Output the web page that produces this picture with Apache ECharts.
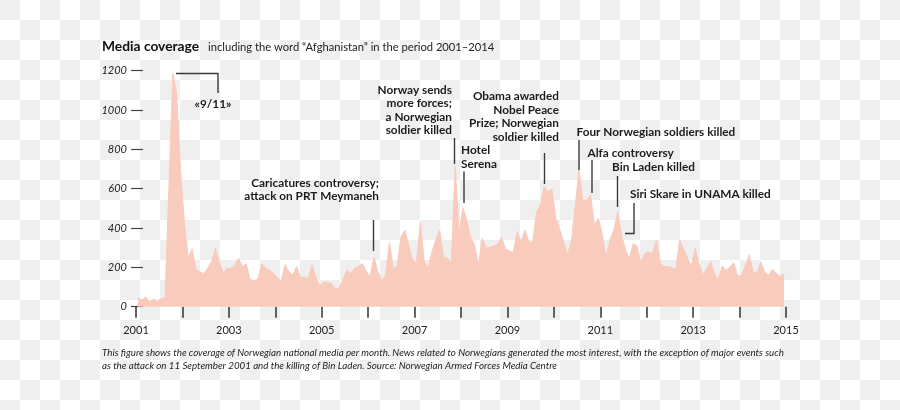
<!DOCTYPE html>
<html>
<head>
<meta charset="utf-8">
<script src="https://cdn.jsdelivr.net/npm/echarts@6/dist/echarts.min.js"></script>
<style>
html,body{margin:0;padding:0;}
body{width:900px;height:410px;
background:conic-gradient(#fff 25%, #efefef 0 50%, #fff 0 75%, #efefef 0) 0 0/40px 40px;}
#chart{width:900px;height:410px;}
</style>
</head>
<body>
<div id="chart"></div>
<script>
// Monthly article counts, Jan 2001 - Dec 2014
const startYear = 2001;
const monthlyCounts = [
  45, 34, 50, 25, 38, 30, 40, 45, 600, 1187, 1085, 700,
  430, 248, 293, 190, 178, 168, 195, 229, 297, 230, 173, 195,
  195, 210, 246, 203, 218, 140, 132, 140, 220, 195, 185, 170,
  150, 127, 215, 180, 160, 205, 150, 150, 144, 213, 150, 108,
  125, 122, 118, 92, 94, 140, 187, 170, 195, 205, 220, 180,
  153, 251, 180, 132, 161, 330, 195, 207, 356, 390, 310, 237,
  229, 432, 229, 195, 280, 340, 390, 251, 246, 229, 715, 375,
  505, 441, 350, 315, 212, 348, 297, 303, 309, 320, 353, 295,
  285, 275, 381, 330, 390, 335, 322, 480, 517, 610, 585, 597,
  450, 395, 330, 265, 330, 508, 695, 540, 542, 568, 410, 449,
  370, 254, 340, 390, 483, 365, 290, 245, 320, 309, 225, 270,
  280, 270, 339, 220, 205, 203, 200, 190, 339, 295, 250, 205,
  297, 220, 161, 195, 229, 170, 136, 207, 185, 200, 224, 156,
  158, 210, 263, 175, 170, 229, 175, 160, 190, 170, 153, 173
];
const yTicks = [0, 200, 400, 600, 800, 1000, 1200];
const xLabelYears = [2001, 2003, 2005, 2007, 2009, 2011, 2013, 2015];

const titleMain = 'Media coverage';
const titleSub = 'including the word \u201cAfghanistan\u201d in the period 2001\u20132014';
const captionLines = [
  'This figure shows the coverage of Norwegian national media per month. News related to Norwegians generated the most interest, with the exception of major events such',
  'as the attack on 11 September 2001 and the killing of Bin Laden. Source: Norwegian Armed Forces Media Centre'
];

const seriesData = monthlyCounts.map((v, i) => [startYear + (i + 0.5) / 12, v]);

const FONT = 'Lato, "Open Sans", sans-serif';
const INK = '#1c1c1c';
const LINE = '#3a3a3a';
const annFont = 'bold 11.8px ' + FONT;

function txt(text, x, y, align) {
  return {
    type: 'text', z: 10,
    style: { text: text, x: x, y: y, font: annFont, fill: INK, align: align || 'left', verticalAlign: 'middle', lineHeight: 13.5 }
  };
}
function poly(points) {
  return { type: 'polyline', z: 10, shape: { points: points }, style: { stroke: LINE, lineWidth: 1.4, fill: null } };
}

const graphics = [
  { type: 'text', z: 10, style: { text: titleMain, x: 102, y: 47, font: 'bold 13.8px ' + FONT, fill: '#111', verticalAlign: 'middle' } },
  { type: 'text', z: 10, style: { text: titleSub, x: 208, y: 47, font: '11.2px ' + FONT, fill: '#222', verticalAlign: 'middle' } },
  // 9/11
  poly([[176, 73.5], [218, 73.5], [218, 93]]),
  txt('\u00ab9/11\u00bb', 213, 104.5, 'center'),
  // Caricatures
  txt('Caricatures controversy;\nattack on PRT Meymaneh', 379, 189.5, 'right'),
  poly([[373.5, 220], [373.5, 251]]),
  // Norway sends
  txt('Norway sends\nmore forces;\na Norwegian\nsoldier killed', 452, 110, 'right'),
  poly([[454.5, 138], [454.5, 164]]),
  // Hotel Serena
  txt('Hotel\nSerena', 461, 157, 'left'),
  poly([[464, 171.5], [464, 203]]),
  // Obama
  txt('Obama awarded\nNobel Peace\nPrize; Norwegian\nsoldier killed', 559, 116.5, 'right'),
  poly([[544.5, 153], [544.5, 184]]),
  // Four Norwegian
  txt('Four Norwegian soldiers killed', 576.5, 132, 'left'),
  poly([[579, 140], [579, 170]]),
  // Alfa
  txt('Alfa controversy', 587.5, 153.5, 'left'),
  poly([[592, 160], [592, 193]]),
  // Bin Laden
  txt('Bin Laden killed', 612, 167, 'left'),
  poly([[617.5, 176], [617.5, 207]]),
  // Siri Skare
  txt('Siri Skare in UNAMA killed', 630, 194, 'left'),
  poly([[634, 203], [634, 233.5], [625, 233.5]]),
  // caption
  { type: 'text', z: 10, style: { text: captionLines.join('\n'), x: 102, y: 346, font: 'italic 9.75px ' + FONT, fill: '#222', lineHeight: 13 } }
];

const chart = echarts.init(document.getElementById('chart'), null, { renderer: 'canvas' });
chart.setOption({
  backgroundColor: 'transparent',
  animation: false,
  grid: { left: 136, right: 114, top: 70.7, bottom: 103.3, containLabel: false },
  xAxis: {
    type: 'value', min: 2001, max: 2015, interval: 1, offset: 4,
    axisLine: { show: false },
    axisTick: { show: true, length: 11, lineStyle: { color: '#333', width: 1.5 } },
    splitLine: { show: false },
    axisLabel: {
      margin: 14, color: '#222', fontSize: 11, fontFamily: FONT,
      formatter: v => (xLabelYears.indexOf(v) >= 0 ? String(v) : '')
    }
  },
  yAxis: {
    type: 'value', min: yTicks[0], max: yTicks[yTicks.length - 1], interval: 200, offset: -7,
    axisLine: { show: false },
    axisTick: { show: true, length: 12, lineStyle: { color: '#444', width: 1.2 } },
    splitLine: { show: false },
    axisLabel: { margin: 16, color: '#222', fontSize: 11, fontStyle: 'italic', fontFamily: FONT,
      formatter: v => String(v) }
  },
  series: [{
    type: 'line', data: seriesData, showSymbol: false, symbol: 'none',
    lineStyle: { color: '#f8cbbd', width: 1 },
    areaStyle: { color: '#f8cbbd', opacity: 1 },
    z: 2
  }],
  graphic: graphics
});
</script>
</body>
</html>
